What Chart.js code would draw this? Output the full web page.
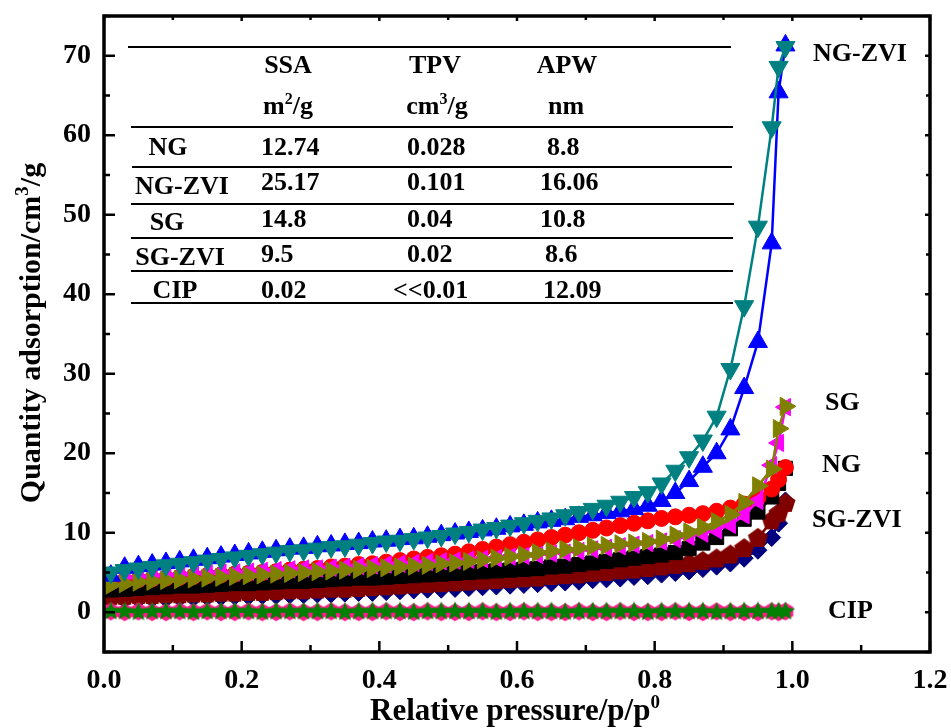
<!DOCTYPE html>
<html><head><meta charset="utf-8">
<script src="https://cdn.jsdelivr.net/npm/chart.js@4/dist/chart.umd.min.js"></script>
<style>html,body{margin:0;padding:0;background:#fff;}</style>
</head><body>
<canvas id="c" width="951" height="728"></canvas>
<script>
// ---------------- data ----------------
const pressure = [0.01,0.03,0.05,0.07,0.09,0.11,0.13,0.15,0.17,0.19,0.21,0.23,0.25,0.27,0.29,0.31,0.33,0.35,0.37,0.39,0.41,0.43,0.45,0.47,0.49,0.51,0.53,0.55,0.57,0.59,0.61,0.63,0.65,0.67,0.69,0.71,0.73,0.75,0.77,0.79,0.81,0.83,0.85,0.87,0.89,0.91,0.93,0.95,0.97,0.98,0.99];
const ngzviAds = [4.6,5.6,5.8,6.0,6.2,6.4,6.6,6.8,7.0,7.2,7.4,7.6,7.8,8.0,8.1,8.3,8.4,8.6,8.7,8.9,9.0,9.2,9.3,9.5,9.7,9.9,10.1,10.3,10.5,10.8,11.0,11.3,11.5,11.7,12.0,12.2,12.5,12.7,13.0,13.4,14.0,15.0,16.5,18.3,20.0,23.0,28.2,34.0,46.4,65.4,71.3];
const ngzviDes = [5.0,5.3,5.5,5.7,5.9,6.1,6.3,6.5,6.7,6.9,7.1,7.3,7.5,7.7,7.8,8.0,8.2,8.3,8.5,8.7,8.9,9.0,9.2,9.4,9.6,9.9,10.1,10.4,10.6,10.9,11.2,11.5,11.8,12.2,12.6,13.0,13.4,13.9,14.5,15.1,16.2,17.8,19.5,21.6,24.6,30.6,38.5,48.5,61.0,68.6,71.1];
const ngAds = [2.8,2.9,3.0,3.1,3.2,3.3,3.3,3.4,3.5,3.6,3.6,3.7,3.8,3.9,3.9,4.0,4.1,4.2,4.3,4.3,4.4,4.5,4.6,4.7,4.8,4.9,5.0,5.1,5.2,5.3,5.4,5.5,5.7,5.8,6.0,6.2,6.4,6.6,6.8,7.0,7.2,7.5,8.0,8.7,9.4,10.5,11.7,12.6,14.5,16.2,18.1];
const ngDes = [3.8,4.0,4.1,4.2,4.3,4.4,4.5,4.6,4.7,4.8,4.9,5.0,5.1,5.3,5.4,5.5,5.7,5.8,6.0,6.1,6.3,6.5,6.7,6.9,7.1,7.3,7.6,7.9,8.2,8.5,8.8,9.1,9.4,9.7,10.0,10.3,10.6,10.9,11.2,11.5,11.8,12.0,12.2,12.4,12.7,13.1,13.6,14.4,15.5,16.7,18.2];
const sgAds = [4.2,4.3,4.4,4.5,4.6,4.7,4.8,4.9,5.0,5.0,5.1,5.2,5.3,5.4,5.5,5.5,5.6,5.7,5.8,5.9,6.0,6.1,6.2,6.3,6.4,6.5,6.6,6.7,6.8,7.0,7.1,7.2,7.4,7.5,7.7,7.9,8.1,8.3,8.5,8.7,8.9,9.2,9.5,9.9,10.3,11.0,12.2,14.0,18.5,21.3,25.8];
const sgDes = [3.4,3.6,3.8,3.9,4.0,4.1,4.2,4.3,4.4,4.5,4.6,4.7,4.8,4.9,5.0,5.1,5.2,5.3,5.4,5.5,5.6,5.7,5.8,5.9,6.1,6.2,6.4,6.6,6.8,7.0,7.2,7.5,7.7,7.9,8.1,8.3,8.4,8.6,8.7,8.9,9.2,9.7,10.1,10.7,11.4,12.3,13.8,15.9,18.0,23.1,25.9];
const sgzviAds = [1.5,1.6,1.6,1.7,1.7,1.8,1.8,1.9,1.9,2.0,2.0,2.1,2.1,2.2,2.2,2.3,2.3,2.4,2.5,2.5,2.6,2.7,2.8,2.9,2.9,3.0,3.1,3.2,3.3,3.4,3.5,3.6,3.7,3.8,3.9,4.1,4.2,4.3,4.5,4.6,4.8,5.0,5.2,5.5,5.8,6.2,6.8,7.8,9.4,11.2,14.0];
const sgzviDes = [2.0,2.0,2.1,2.1,2.2,2.2,2.3,2.3,2.4,2.4,2.5,2.5,2.6,2.7,2.7,2.8,2.9,2.9,3.0,3.1,3.2,3.3,3.4,3.5,3.6,3.7,3.8,3.9,4.0,4.1,4.2,4.3,4.5,4.6,4.7,4.9,5.0,5.2,5.3,5.5,5.7,5.9,6.1,6.4,6.7,7.2,8.0,9.3,11.5,12.4,13.7];
const cipAds = [0.1,0.0,0.1,0.0,0.0,0.1,0.0,0.1,0.0,0.0,0.1,0.0,0.0,0.1,0.0,0.0,0.1,0.0,0.0,0.0,0.1,0.0,0.0,0.1,0.0,0.0,0.0,0.1,0.0,0.0,0.1,0.0,0.0,0.0,0.1,0.0,0.0,0.1,0.0,0.0,0.0,0.1,0.0,0.0,0.1,0.0,0.0,0.0,0.1,0.0,0.1];
const cipDes = [0.1,0.1,0.0,0.1,0.1,0.1,0.0,0.1,0.1,0.1,0.1,0.0,0.1,0.1,0.1,0.1,0.1,0.0,0.1,0.1,0.1,0.1,0.0,0.1,0.1,0.1,0.1,0.1,0.0,0.1,0.1,0.1,0.1,0.0,0.1,0.1,0.1,0.1,0.1,0.0,0.1,0.1,0.1,0.1,0.0,0.1,0.1,0.1,0.1,0.1,0.1];

const xTicks = [0, 0.2, 0.4, 0.6, 0.8, 1.0, 1.2];
const xMinorTicks = [0.1, 0.3, 0.5, 0.7, 0.9, 1.1];
const yTicks = [0, 10, 20, 30, 40, 50, 60, 70];
const yMinorTicks = [-5, 5, 15, 25, 35, 45, 55, 65, 75];

const tableHeads = ['SSA', 'TPV', 'APW'];
const tableUnits = [[['m',0],['2',1],['/g',0]], [['cm',0],['3',1],['/g',0]], [['nm',0]]];
const sampleNames = ['NG', 'NG-ZVI', 'SG', 'SG-ZVI', 'CIP'];
const ssaValues = ['12.74', '25.17', '14.8', '9.5', '0.02'];
const tpvValues = ['0.028', '0.101', '0.04', '0.02', '<<0.01'];
const apwValues = ['8.8', '16.06', '10.8', '8.6', '12.09'];
const curveLabels = ['NG-ZVI', 'SG', 'NG', 'SG-ZVI', 'CIP'];

// ---------------- marker shapes ----------------
function polyCanvas(color, r, n, rot, inner) {
  const s = Math.ceil(2 * r + 4), c = document.createElement('canvas');
  c.width = s; c.height = s;
  const g = c.getContext('2d'); g.fillStyle = color; g.beginPath();
  const cnt = inner ? n * 2 : n;
  for (let i = 0; i < cnt; i++) {
    const a = rot + i * 2 * Math.PI / cnt;
    const rr = inner && (i % 2) ? r * inner : r;
    const px = s / 2 + rr * Math.sin(a), py = s / 2 - rr * Math.cos(a);
    i ? g.lineTo(px, py) : g.moveTo(px, py);
  }
  g.closePath(); g.fill();
  return c;
}
const pentagon = polyCanvas('#800000', 10.5, 5, 0);
const hexagon = polyCanvas('#FF1A8C', 9, 6, 0);
const star = polyCanvas('#008000', 10, 5, 0, 0.45);

function ds(vals, color, style, radius, rotation) {
  return {
    data: pressure.map((p, i) => ({ x: p, y: vals[i] })),
    showLine: true, borderColor: color, backgroundColor: color, borderWidth: 2.5,
    pointStyle: style, pointRadius: radius, pointRotation: rotation || 0,
    pointBackgroundColor: color, pointBorderColor: color, pointBorderWidth: 1, tension: 0
  };
}

// first dataset is drawn on top
const datasets = [
  ds(cipDes, '#008000', star, 10),
  ds(cipAds, '#FF1A8C', hexagon, 9),
  ds(ngzviDes, '#008080', 'triangle', 11, 180),
  ds(ngzviAds, '#0000FF', 'triangle', 11, 0),
  ds(sgDes, '#808000', 'triangle', 10.5, 90),
  ds(sgAds, '#FF00FF', 'triangle', 10, 270),
  ds(ngDes, '#FF0000', 'circle', 8),
  ds(ngAds, '#000000', 'rect', 10),
  ds(sgzviDes, '#800000', pentagon, 10),
  ds(sgzviAds, '#000080', 'rectRot', 9)
];

const FONT = '"Liberation Serif", "Times New Roman", serif';

function drawRich(ctx, parts, x, y, align, size) {
  const base = `bold ${size}px ${FONT}`, sup = `bold ${Math.round(size * 0.62)}px ${FONT}`;
  let w = 0;
  parts.forEach(p => { ctx.font = p[1] ? sup : base; w += ctx.measureText(p[0]).width; });
  let cx = align === 'center' ? x - w / 2 : (align === 'right' ? x - w : x);
  ctx.textAlign = 'left'; ctx.textBaseline = 'alphabetic';
  parts.forEach(p => {
    ctx.font = p[1] ? sup : base;
    ctx.fillText(p[0], cx, p[1] ? y - size * 0.4 : y);
    cx += ctx.measureText(p[0]).width;
  });
}

const framePlugin = {
  id: 'frame',
  afterDatasetsDraw(chart) {
    const { ctx, chartArea: { left, right, top, bottom }, scales: { x, y } } = chart;
    ctx.save();
    ctx.strokeStyle = '#000'; ctx.lineCap = 'butt';
    const seg = (x1, y1, x2, y2) => { ctx.beginPath(); ctx.moveTo(x1, y1); ctx.lineTo(x2, y2); ctx.stroke(); };
    ctx.lineWidth = 2.5;
    xTicks.forEach(v => { const p = x.getPixelForValue(v); seg(p, bottom, p, bottom - 11); seg(p, top, p, top + 5); });
    xMinorTicks.forEach(v => { const p = x.getPixelForValue(v); seg(p, bottom, p, bottom - 7); seg(p, top, p, top + 4); });
    yTicks.forEach(v => { const p = y.getPixelForValue(v); seg(left, p, left + 11, p); seg(right, p, right - 5, p); });
    yMinorTicks.forEach(v => { const p = y.getPixelForValue(v); seg(left, p, left + 6, p); seg(right, p, right - 4, p); });
    ctx.lineWidth = 3.5;
    ctx.strokeRect(left, top, right - left, bottom - top);
    ctx.restore();
  },
  afterDraw(chart) {
    const { ctx } = chart;
    ctx.save();
    ctx.fillStyle = '#000';
    // axis titles
    drawRich(ctx, [['Relative pressure/p/p', 0], ['0', 1]], 515, 720, 'center', 31);
    ctx.save();
    ctx.translate(40, 333); ctx.rotate(-Math.PI / 2);
    drawRich(ctx, [['Quantity adsorption/cm', 0], ['3', 1], ['/g', 0]], 0, 0, 'center', 30);
    ctx.restore();
    // table
    ctx.strokeStyle = '#000'; ctx.lineWidth = 2;
    const rules = [[47, 128, 731], [127, 131, 733], [167, 132, 732], [204, 131, 734], [238, 131, 733], [271, 131, 733], [303, 131, 733]];
    rules.forEach(r => { ctx.beginPath(); ctx.moveTo(r[1], r[0]); ctx.lineTo(r[2], r[0]); ctx.stroke(); });
    const headX = [288, 435, 567];
    tableHeads.forEach((h, i) => drawRich(ctx, [[h, 0]], headX[i], 73, 'center', 26));
    const unitX = [288, 437, 566];
    tableUnits.forEach((u, i) => drawRich(ctx, u, unitX[i], 114, 'center', 26));
    const nameX = [168, 182, 167, 180, 175];
    const nameY = [155, 194, 230, 265, 298];
    const valY = [155, 190, 227, 262, 298];
    sampleNames.forEach((n, i) => drawRich(ctx, [[n, 0]], nameX[i], nameY[i], 'center', 26));
    ssaValues.forEach((v, i) => drawRich(ctx, [[v, 0]], 261, valY[i], 'left', 26));
    const tpvX = [407, 407, 407, 407, 393];
    tpvValues.forEach((v, i) => drawRich(ctx, [[v, 0]], tpvX[i], valY[i], 'left', 26));
    const apwX = [547, 540, 540, 545, 543];
    apwValues.forEach((v, i) => drawRich(ctx, [[v, 0]], apwX[i], valY[i], 'left', 26));
    // curve labels
    const labX = [813, 825, 822, 812, 828];
    const labY = [61, 410, 472, 527, 618];
    curveLabels.forEach((l, i) => drawRich(ctx, [[l, 0]], labX[i], labY[i], 'left', 26));
    ctx.restore();
  }
};

const chart = new Chart(document.getElementById('c'), {
  type: 'scatter',
  data: { datasets },
  options: {
    responsive: false, animation: false, devicePixelRatio: 1,
    layout: { padding: { left: 0, right: 21, top: 16, bottom: 0 } },
    plugins: { legend: { display: false }, tooltip: { enabled: false } },
    scales: {
      x: {
        type: 'linear', min: 0, max: 1.2,
        afterBuildTicks: s => { s.ticks = xTicks.map(v => ({ value: v })); },
        afterFit: s => { s.height = 76; s.paddingLeft = 0; s.paddingRight = 0; },
        grid: { display: false, drawTicks: false }, border: { display: false },
        ticks: { color: '#000', padding: 12, maxRotation: 0, font: { family: FONT, size: 28, weight: 'bold' }, callback: v => Number(v).toFixed(1) }
      },
      y: {
        type: 'linear', min: -5, max: 75,
        afterBuildTicks: s => { s.ticks = yTicks.map(v => ({ value: v })); },
        afterFit: s => { s.width = 104; s.paddingTop = 0; s.paddingBottom = 0; },
        grid: { display: false, drawTicks: false }, border: { display: false },
        ticks: { color: '#000', padding: 13, font: { family: FONT, size: 28, weight: 'bold' }, callback: v => String(v) }
      }
    }
  },
  plugins: [framePlugin]
});

// nudge the layout padding so the plot frame sits where the reference has it
const target = { left: 104, right: 930, top: 16, bottom: 652 };
for (let k = 0; k < 2; k++) {
  const ca = chart.chartArea, pad = chart.options.layout.padding;
  pad.left += target.left - ca.left;
  pad.top += target.top - ca.top;
  pad.right += ca.right - target.right;
  pad.bottom += ca.bottom - target.bottom;
  chart.update();
}
</script>
</body></html>
